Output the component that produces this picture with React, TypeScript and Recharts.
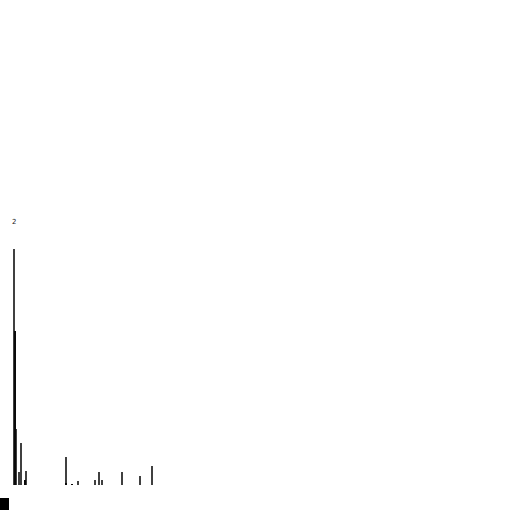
import { ComposedChart, Bar, XAxis, YAxis } from "recharts";

// histogram bins (0..139) and counts
const binCount = 140;
const grayBins = [0, 2, 5, 7, 12, 52, 64, 81, 85, 88, 108, 126, 138];
const grayCounts = [236, 56, 13, 42, 14, 28, 4, 5, 13, 5, 13, 9, 19];
const blackBins = [1, 11, 52, 58];
const blackCounts = [154, 5, 2, 1];
const topLabel = "2";

const data = Array.from({ length: binCount }, (_, i) => {
  const g = grayBins.indexOf(i);
  const b = blackBins.indexOf(i);
  return {
    bin: i,
    gray: g >= 0 ? grayCounts[g] : 0,
    black: b >= 0 ? blackCounts[b] : 0,
  };
});

const bar = (fill: string) => (p: any) =>
  p.height > 0 ? (
    <rect x={Math.round(p.x)} y={p.y} width={2} height={p.height} fill={fill} />
  ) : null;

export default function App() {
  return (
    <div style={{ position: "absolute", left: 0, top: 0, width: 512, height: 512, background: "#fff" }}>
      <ComposedChart
        width={512}
        height={512}
        data={data}
        margin={{ top: 249, left: 13, right: 359, bottom: 27 }}
        barCategoryGap={0}
      >
        <XAxis
          xAxisId="a"
          dataKey="bin"
          height={0}
          tick={false}
          tickLine={false}
          axisLine={{ stroke: "#d05050", strokeWidth: 1 }}
        />
        <XAxis xAxisId="b" dataKey="bin" hide />
        <YAxis hide width={0} domain={[0, 236]} />
        <Bar xAxisId="a" dataKey="gray" shape={bar("#404040")} isAnimationActive={false} />
        <Bar xAxisId="b" dataKey="black" shape={bar("#0a0a0a")} isAnimationActive={false} />
      </ComposedChart>
      <div
        style={{
          position: "absolute",
          left: 12,
          top: 218,
          fontSize: 7,
          fontFamily: "DejaVu Sans",
          color: "#222",
        }}
      >
        {topLabel}
      </div>
      <div style={{ position: "absolute", left: 0, top: 498, width: 9, height: 12, background: "#000" }} />
    </div>
  );
}
